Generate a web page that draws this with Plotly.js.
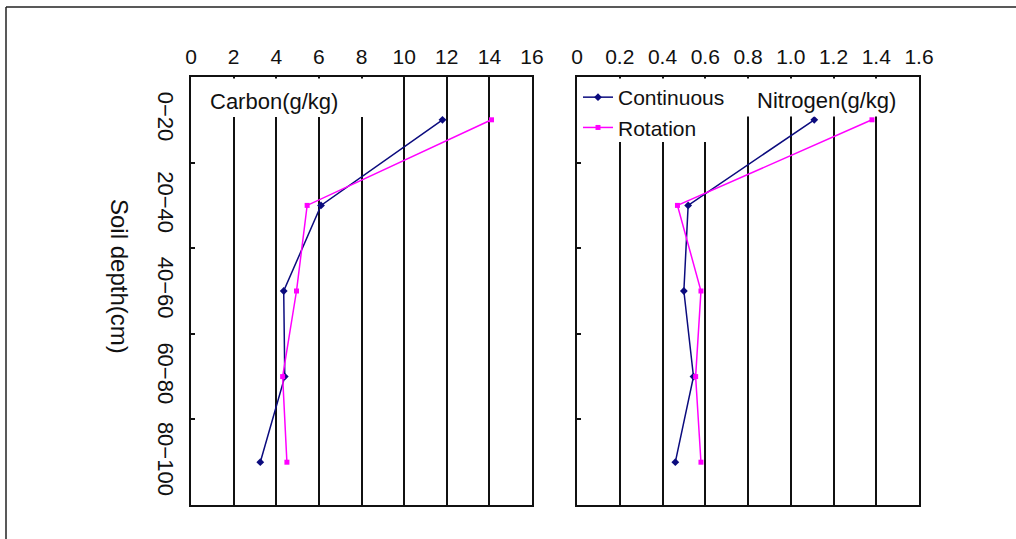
<!DOCTYPE html>
<html>
<head>
<meta charset="utf-8">
<script src="https://cdn.plot.ly/plotly-3.0.1.min.js"></script>
<style>html,body{margin:0;padding:0;background:#fff;}#chart{width:1016px;height:539px;}</style>
</head>
<body>
<div id="chart"></div>
<script>
// ---- data ----
const depthLabels = ['0−20', '20−40', '40−60', '60−80', '80−100'];
const carbonContinuous = [11.8, 6.1, 4.35, 4.4, 3.25];
const carbonRotation = [14.1, 5.45, 4.95, 4.3, 4.5];
const nitrogenContinuous = [1.11, 0.52, 0.50, 0.545, 0.46];
const nitrogenRotation = [1.38, 0.47, 0.58, 0.555, 0.58];
const carbonTicks = [0, 2, 4, 6, 8, 10, 12, 14, 16];
const nitrogenTicks = [0, 0.2, 0.4, 0.6, 0.8, 1.0, 1.2, 1.4, 1.6];
const nitrogenTickText = ['0', '0.2', '0.4', '0.6', '0.8', '1.0', '1.2', '1.4', '1.6'];

const W = 1016, H = 539;
const px = v => v / W;
const py = v => 1 - v / H;
const FONT = 'Liberation Sans, Arial, sans-serif';
const navy = '#0b0b7e';
const magenta = '#ff00ff';

const traces = [
  {x: carbonContinuous, y: depthLabels, xaxis: 'x', yaxis: 'y', type: 'scatter', mode: 'lines+markers',
   name: 'Continuous', showlegend: false, line: {color: navy, width: 1.5}, marker: {symbol: 'diamond', size: 6, color: navy}},
  {x: carbonRotation, y: depthLabels, xaxis: 'x', yaxis: 'y', type: 'scatter', mode: 'lines+markers',
   name: 'Rotation', showlegend: false, line: {color: magenta, width: 1.5}, marker: {symbol: 'square', size: 5, color: magenta}},
  {x: nitrogenContinuous, y: depthLabels, xaxis: 'x2', yaxis: 'y2', type: 'scatter', mode: 'lines+markers',
   name: 'Continuous', line: {color: navy, width: 1.5}, marker: {symbol: 'diamond', size: 6, color: navy}},
  {x: nitrogenRotation, y: depthLabels, xaxis: 'x2', yaxis: 'y2', type: 'scatter', mode: 'lines+markers',
   name: 'Rotation', line: {color: magenta, width: 1.5}, marker: {symbol: 'square', size: 5, color: magenta}}
];

const xCommon = {
  side: 'top', showgrid: true, gridcolor: '#111', gridwidth: 2, zeroline: false,
  showline: true, linecolor: '#111', linewidth: 2, mirror: true, ticks: '',
  ticklabelstandoff: 3, tickfont: {family: FONT, size: 21, color: '#111'}, fixedrange: true
};
const yCommon = {
  type: 'category', categoryorder: 'array', categoryarray: depthLabels, range: [4.5, -0.5],
  showgrid: false, zeroline: false, showline: true, linecolor: '#111', linewidth: 2, mirror: true,
  ticks: 'inside', tickson: 'boundaries', ticklen: 4, tickwidth: 2, tickcolor: '#111',
  domain: [py(505), py(77)], fixedrange: true
};

const layout = {
  width: W, height: H,
  margin: {l: 0, r: 0, t: 0, b: 0},
  paper_bgcolor: '#fff', plot_bgcolor: '#fff',
  font: {family: FONT, color: '#111'},
  xaxis: Object.assign({}, xCommon, {domain: [px(191), px(532)], range: [0, 16], tickvals: carbonTicks, anchor: 'y'}),
  xaxis2: Object.assign({}, xCommon, {domain: [px(577), px(919)], range: [0, 1.6], tickvals: nitrogenTicks, ticktext: nitrogenTickText, anchor: 'y2'}),
  yaxis: Object.assign({}, yCommon, {anchor: 'x', tickangle: 90, ticklabelstandoff: 5,
    tickfont: {family: FONT, size: 22, color: '#111'}}),
  yaxis2: Object.assign({}, yCommon, {anchor: 'x2', showticklabels: false}),
  showlegend: true,
  legend: {x: px(578), y: py(77), xanchor: 'left', yanchor: 'top', bgcolor: 'rgba(0,0,0,0)',
    font: {family: FONT, size: 21, color: '#111'}, tracegroupgap: 0, itemwidth: 30},
  shapes: [
    // white boxes behind the in-plot texts hide the grid lines there
    {type: 'rect', xref: 'paper', yref: 'paper', x0: px(193), x1: px(372), y0: py(117), y1: py(78.5),
     fillcolor: '#fff', line: {width: 0}, layer: 'above'},
    {type: 'rect', xref: 'paper', yref: 'paper', x0: px(579), x1: px(728), y0: py(142), y1: py(78.5),
     fillcolor: '#fff', line: {width: 0}, layer: 'above'},
    {type: 'rect', xref: 'paper', yref: 'paper', x0: px(728), x1: px(900), y0: py(116.5), y1: py(78.5),
     fillcolor: '#fff', line: {width: 0}, layer: 'above'},
    // outer frame
    {type: 'line', xref: 'paper', yref: 'paper', x0: px(6), x1: 1.01, y0: py(7), y1: py(7), line: {color: '#222', width: 1.5}},
    {type: 'line', xref: 'paper', yref: 'paper', x0: px(6), x1: px(6), y0: py(7), y1: -0.01, line: {color: '#222', width: 1.5}}
  ],
  annotations: [
    {text: 'Carbon(g/kg)', xref: 'paper', yref: 'paper', x: px(208), y: py(101), xanchor: 'left', yanchor: 'middle',
     showarrow: false, font: {family: FONT, size: 22, color: '#111'}},
    {text: 'Nitrogen(g/kg)', xref: 'paper', yref: 'paper', x: px(755), y: py(100), xanchor: 'left', yanchor: 'middle',
     showarrow: false, font: {family: FONT, size: 22, color: '#111'}},
    {text: 'Soil depth(cm)', xref: 'paper', yref: 'paper', x: px(120), y: py(276), xanchor: 'center', yanchor: 'middle',
     textangle: 90, showarrow: false, font: {family: FONT, size: 24, color: '#111'}}
  ]
};

Plotly.newPlot('chart', traces, layout, {displayModeBar: false, staticPlot: true});
</script>
</body>
</html>
